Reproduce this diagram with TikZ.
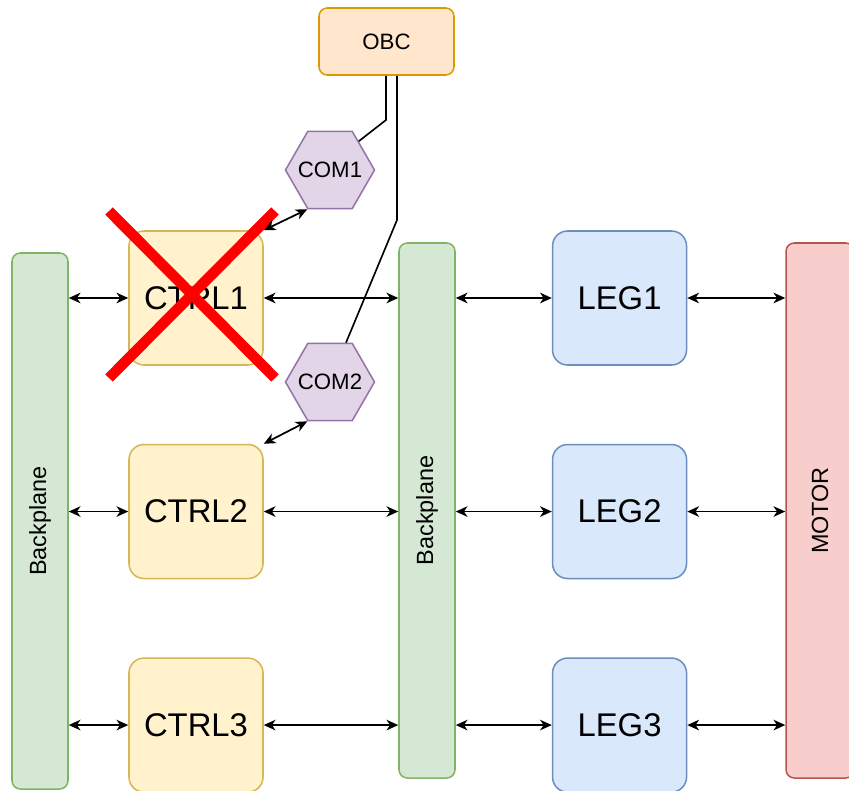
\documentclass[tikz,border=0pt]{standalone}
\usepackage{fontspec}
\setmainfont{Liberation Sans}
\usetikzlibrary{arrows.meta,shapes.geometric,positioning}

\definecolor{planefill}{HTML}{D5E8D4}
\definecolor{planeline}{HTML}{82B366}
\definecolor{ctrlfill}{HTML}{FFF2CC}
\definecolor{ctrlline}{HTML}{D6B656}
\definecolor{legfill}{HTML}{DAE8FC}
\definecolor{legline}{HTML}{6C8EBF}
\definecolor{motorfill}{HTML}{F8CECC}
\definecolor{motorline}{HTML}{B85450}
\definecolor{obcfill}{HTML}{FFE6CC}
\definecolor{obcline}{HTML}{D79B00}
\definecolor{comfill}{HTML}{E1D5E7}
\definecolor{comline}{HTML}{9673A6}

\begin{document}
\begin{tikzpicture}[
		x=0.03cm, y=-0.03cm,
		>={Stealth[length=10pt,width=9pt,inset=3pt]},
		node distance = 2.34cm and 8.64cm,
		every node/.style = {font=\fontsize{19}{22}\selectfont},
		unit/.style = {draw, line width=1.3pt, rounded corners=0.45cm, minimum width=4.02cm, minimum height=4.02cm, font=\fontsize{28}{31}\selectfont},
		ctrl/.style = {unit, fill=ctrlfill, draw=ctrlline},
		leg/.style = {unit, fill=legfill, draw=legline},
		plane/.style = {draw=planeline, fill=planefill, line width=1.3pt, rounded corners=0.25cm, minimum width=1.68cm, font=\fontsize{20}{23}\selectfont},
		com/.style = {regular polygon, regular polygon sides=6, minimum size=2.67cm, inner sep=-8pt, draw=comline, fill=comfill, line width=1.3pt},
		link/.style = {<->, line width=1.5pt},
		wire/.style = {line width=1.4pt},
		cross/.style = {red, line width=9pt}
		]
		\useasboundingbox (0,0) rectangle (849,790);
		
		% Controllers and legs ------------------------------------------
		\node[ctrl] (ctrl1) at (196,298) {CTRL1};
		\node[ctrl, below=of ctrl1] (ctrl2) {CTRL2};
		\node[ctrl, below=of ctrl2] (ctrl3) {CTRL3};
		\node[leg, right=of ctrl1] (leg1) {LEG1};
		\node[leg, right=of ctrl2] (leg2) {LEG2};
		\node[leg, right=of ctrl3] (leg3) {LEG3};
		
		% Backplanes and motor ------------------------------------------
		\node[plane, minimum height=16.08cm] (bpleft) at (40,521) {\rotatebox{90}{Backplane}};
		\node[plane, minimum height=16.05cm] (bpmid) at (427,510.5) {\rotatebox{90}{Backplane}};
		\node[plane, draw=motorline, fill=motorfill, minimum width=2.04cm,
		minimum height=16.05cm] (motor) at (820,510.5) {\rotatebox{90}{MOTOR}};
		
		% OBC and COM ---------------------------------------------------
		\node[draw=obcline, fill=obcfill, line width=1.3pt, rounded corners=0.25cm,
		minimum width=4.05cm, minimum height=2.01cm] (obc) at (386.5,41.5) {OBC};
		\node[com] (com1) at (330,170) {COM1};
		\node[com] (com2) at (330,382) {COM2};
		\coordinate (bend1) at (386,120);
		\coordinate (bend2) at (397,220);
		
		% Failed controller ---------------------------------------------
		\draw[cross] (109,211) -- (275,378);
		\draw[cross] (275,211) -- (109,378);
		
		% Arrows --------------------------------------------------------
		\foreach \r in {1,2,3} {
			\draw[link] (bpleft.east |- ctrl\r.west) -- (ctrl\r.west);
			\draw[link] (ctrl\r.east) -- (bpmid.west |- ctrl\r.east);
			\draw[link] (bpmid.east |- leg\r.west) -- (leg\r.west);
			\draw[link] (leg\r.east) -- (motor.west |- leg\r.east);
		}
		\draw[link] (ctrl1.north east) -- (com1.corner 4);
		\draw[link] (ctrl2.north east) -- (com2.corner 4);
		\draw[wire] (bend1 |- obc.south) -- (bend1) -- (com1.45);
		\draw[wire] (bend2 |- obc.south) -- (bend2) -- ([xshift=0.48cm]com2.north);
	\end{tikzpicture}
\end{document}
